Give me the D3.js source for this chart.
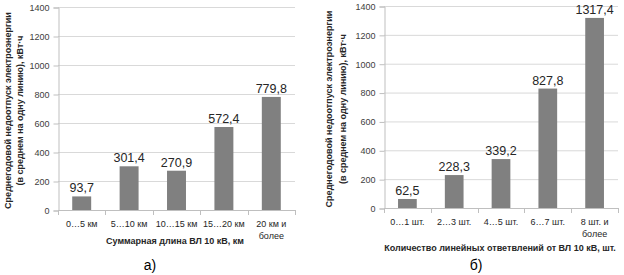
<!DOCTYPE html>
<html>
<head>
<meta charset="utf-8">
<script src="https://cdnjs.cloudflare.com/ajax/libs/d3/7.8.5/d3.min.js"></script>
<style>
  body { margin: 0; background: #fff; }
  svg { display: block; font-family: "Liberation Sans", Arial, sans-serif; }
</style>
</head>
<body>
<div id="container"></div>
<script>
// данные
const catsA = ["0…5 км", "5…10 км", "10…15 км", "15…20 км", "20 км и\nболее"];
const valsA = [93.7, 301.4, 270.9, 572.4, 779.8];
const catsB = ["0…1 шт.", "2…3 шт.", "4…5 шт.", "6…7 шт.", "8 шт. и\nболее"];
const valsB = [62.5, 228.3, 339.2, 827.8, 1317.4];
const yTicks = [0, 200, 400, 600, 800, 1000, 1200, 1400];
const yTitle = ["Среднегодовой недоотпуск электроэнергии", "(в среднем на одну линию), кВт·ч"];
const xTitleA = "Суммарная длина ВЛ 10 кВ, км";
const xTitleB = "Количество линейных ответвлений от ВЛ 10 кВ, шт.";

const W = 624, H = 275;
const ru = d3.formatLocale({decimal: ",", thousands: " ", grouping: [3], currency: ["", ""]});
const fmt = ru.format(".1f");

const svg = d3.select("#container").append("svg")
  .attr("width", W).attr("height", H);

function drawChart(o) {
  const g = svg.append("g");
  const y = d3.scaleLinear().domain([0, 1400]).range([o.y0, o.y1]);
  const xb = d3.scaleBand().domain(o.cats).range([o.x0, o.x1]).padding(0);
  const x = d3.scaleBand().domain(o.cats).range([o.x0, o.x1])
    .paddingInner(0.6).paddingOuter(0.3);

  // сетка
  g.selectAll(".grid").data(yTicks.slice(1)).enter().append("line")
    .attr("x1", o.x0).attr("x2", o.x1)
    .attr("y1", d => y(d) + 0.5).attr("y2", d => y(d) + 0.5)
    .attr("stroke", "#d9d9d9");

  // ось y
  const ay = d3.axisLeft(y).tickValues(yTicks).tickFormat(d3.format("d"))
    .tickSize(5).tickPadding(4);
  const gy = g.append("g").attr("transform", `translate(${o.x0 + 0.5},0.5)`).call(ay);
  gy.select(".domain").attr("stroke", "#bfbfbf");
  gy.selectAll(".tick line").attr("stroke", "#bfbfbf");
  gy.selectAll(".tick text").attr("font-size", 9).attr("fill", "#404040")
    .attr("font-family", "Liberation Sans, Arial, sans-serif");

  // ось x
  g.append("line").attr("x1", o.x0).attr("x2", o.x1)
    .attr("y1", o.y0 + 0.5).attr("y2", o.y0 + 0.5).attr("stroke", "#bfbfbf");
  const bounds = o.cats.map(c => xb(c)).concat([o.x1]);
  g.selectAll(".xt").data(bounds).enter().append("line")
    .attr("x1", d => Math.round(d) + 0.5).attr("x2", d => Math.round(d) + 0.5)
    .attr("y1", o.y0).attr("y2", o.y0 + 5).attr("stroke", "#bfbfbf");

  // столбики
  g.selectAll(".bar").data(o.vals).enter().append("rect")
    .attr("x", (d, i) => x(o.cats[i]))
    .attr("width", x.bandwidth())
    .attr("y", d => y(d))
    .attr("height", d => y(0) - y(d))
    .attr("fill", "#808080");

  // подписи значений
  g.selectAll(".lbl").data(o.vals).enter().append("text")
    .attr("x", (d, i) => x(o.cats[i]) + x.bandwidth() / 2)
    .attr("y", d => y(d) - 4)
    .attr("text-anchor", "middle")
    .attr("font-size", 12.5).attr("fill", "#262626")
    .text(d => fmt(d));

  // подписи категорий
  const ct = g.selectAll(".cat").data(o.cats).enter().append("text")
    .attr("x", d => xb(d) + xb.bandwidth() / 2)
    .attr("y", o.y0 + 17)
    .attr("text-anchor", "middle")
    .attr("font-size", 9).attr("fill", "#262626");
  ct.selectAll("tspan").data(d => d.split("\n")).enter().append("tspan")
    .attr("x", function () { return d3.select(this.parentNode).attr("x"); })
    .attr("dy", (d, i) => i ? 12 : 0)
    .text(d => d);

  // название оси x
  g.append("text").attr("x", o.xtX).attr("y", o.xtY)
    .attr("text-anchor", "middle").attr("font-size", 9).attr("font-weight", "bold")
    .attr("fill", "#262626").text(o.xTitle);

  // название оси y
  const yt = g.append("text")
    .attr("transform", `translate(${o.ytX},${(o.y0 + o.y1) / 2 + 2}) rotate(-90)`)
    .attr("text-anchor", "middle").attr("font-size", 9).attr("font-weight", "bold")
    .attr("fill", "#262626");
  yt.selectAll("tspan").data(yTitle).enter().append("tspan")
    .attr("x", 0).attr("dy", (d, i) => i ? o.ytGap : 0).text(d => d);

  // буква
  g.append("text").attr("x", o.letterX).attr("y", 270)
    .attr("text-anchor", "middle").attr("font-size", 14)
    .attr("fill", "#000").text(o.letter);
}

drawChart({cats: catsA, vals: valsA, x0: 58, x1: 295, y0: 210, y1: 7,
  xTitle: xTitleA, xtX: 175, xtY: 244, ytX: 11, ytGap: 12, letter: "а)", letterX: 150});
drawChart({cats: catsB, vals: valsB, x0: 384, x1: 618, y0: 208, y1: 6,
  xTitle: xTitleB, xtX: 500, xtY: 251, ytX: 332, ytGap: 14, letter: "б)", letterX: 476});
</script>
</body>
</html>
